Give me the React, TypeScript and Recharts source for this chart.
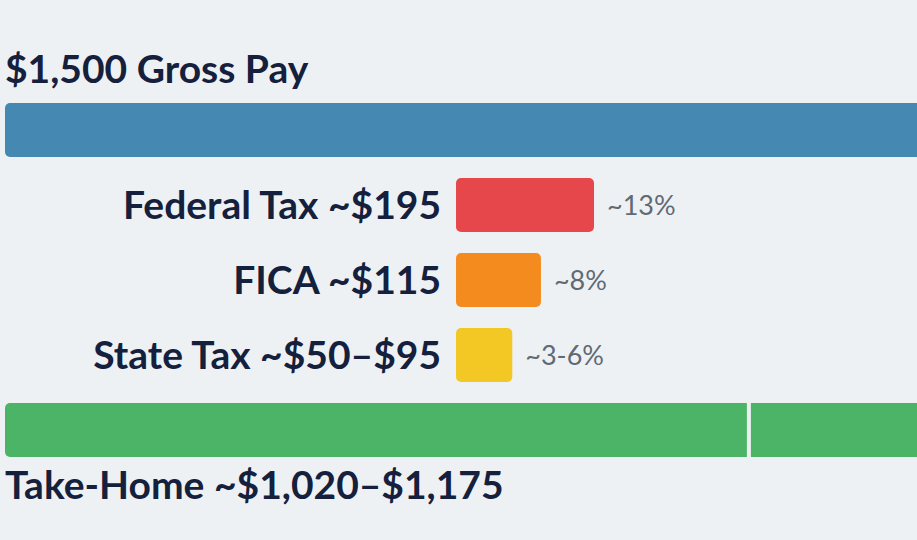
import React from 'react';
import { BarChart, Bar, XAxis, YAxis, Cell, LabelList, Rectangle } from 'recharts';

// rows, top to bottom
const rowNames = ['Gross Pay', 'Federal Tax', 'FICA', 'State Tax', 'Take-Home'];
const rowLabels = ['$1,500 Gross Pay', 'Federal Tax ~$195', 'FICA ~$115', 'State Tax ~$50–$95', 'Take-Home ~$1,020–$1,175'];
const grossPay = 1500;
const takeHomeLow = 1020;
// deduction bar lengths, in percent of gross
const deductionPct = [null, 13, 8, 5.3, null];
const pctLabels = ['', '~13%', '~8%', '~3-6%', ''];
const rowColors = ['#4588b2', '#e5474a', '#f48b1f', '#f3c824', '#4bb466'];

const NAVY = '#15203d';
const GRAY = '#5f6a75';
const FONT = 'Lato, "Open Sans", sans-serif';

const data = rowNames.map((name, i) => ({
  name,
  label: rowLabels[i],
  pctLabel: pctLabels[i],
  usd: i === 0 ? grossPay : i === 4 ? takeHomeLow : null,
  rest: i === 4 ? grossPay - takeHomeLow : null,
  pct: deductionPct[i],
}));

// title above the gross bar, caption under the take-home bar
const OuterLabel = (props: any) => {
  const { value } = props;
  const vb = props.viewBox || {};
  const x = vb.x ?? props.x;
  const y = vb.y ?? props.y;
  const h = vb.height ?? props.height ?? 54;
  if (value === rowLabels[0]) {
    return (
      <text x={x} y={y - 20} fill={NAVY} fontSize={39} fontWeight={700} fontFamily={FONT}>
        {value}
      </text>
    );
  }
  if (value === rowLabels[4]) {
    return (
      <text x={x} y={y + h + 42} fill={NAVY} fontSize={39} fontWeight={700} fontFamily={FONT}>
        {value}
      </text>
    );
  }
  return null;
};

// leave a thin gap where the take-home range begins
const RestShape = (props: any) => {
  const gap = 4;
  if (!props.width) return null;
  return <Rectangle {...props} x={props.x + gap} width={props.width - gap} />;
};

const App: React.FC = () => {
  return (
    <div
      style={{
        position: 'fixed',
        left: 0,
        top: 0,
        width: 917,
        height: 540,
        overflow: 'hidden',
        background: '#eef1f4',
      }}
    >
      <BarChart
        width={1096}
        height={540}
        data={data}
        layout="vertical"
        margin={{ top: 92, right: 0, bottom: 73, left: 5 }}
        barSize={54}
      >
        <XAxis xAxisId="usd" type="number" domain={[0, grossPay]} allowDataOverflow hide />
        <XAxis xAxisId="pct" type="number" domain={[-42.49, 60.29]} allowDataOverflow hide />
        <YAxis type="category" dataKey="name" hide />
        <Bar xAxisId="usd" dataKey="usd" stackId="s" radius={[5, 0, 0, 5]} isAnimationActive={false}>
          {data.map((d, i) => (
            <Cell key={d.name} fill={rowColors[i]} />
          ))}
          <LabelList dataKey="label" content={OuterLabel} />
        </Bar>
        <Bar
          xAxisId="usd"
          dataKey="rest"
          stackId="s"
          fill={rowColors[4]}
          shape={RestShape}
          isAnimationActive={false}
        />
        <Bar xAxisId="pct" dataKey="pct" stackId="s" radius={5} isAnimationActive={false}>
          {data.map((d, i) => (
            <Cell key={d.name} fill={rowColors[i]} />
          ))}
          <LabelList
            dataKey="label"
            position="left"
            offset={15}
            fill={NAVY}
            fontSize={39}
            fontWeight={700}
            fontFamily={FONT}
          />
          <LabelList
            dataKey="pctLabel"
            position="right"
            offset={13}
            fill={GRAY}
            fontSize={27}
            fontFamily={FONT}
          />
        </Bar>
      </BarChart>
    </div>
  );
};

export default App;
